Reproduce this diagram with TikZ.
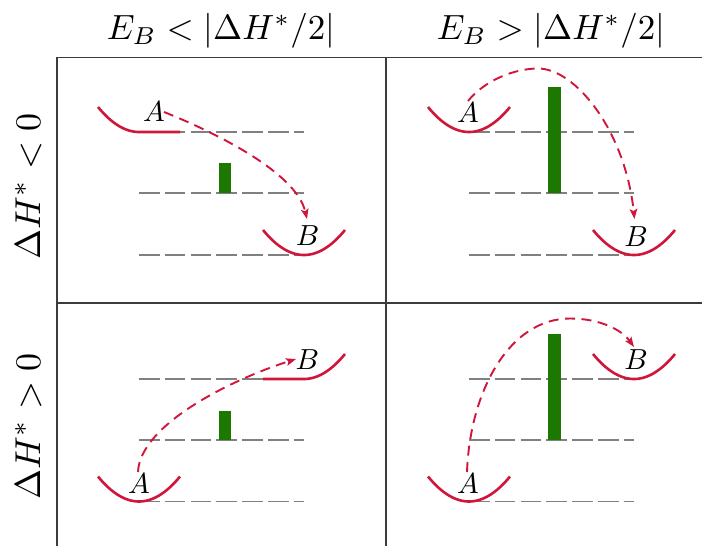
\documentclass[tikz,border=0pt]{standalone}
\usetikzlibrary{arrows.meta}
\definecolor{wellred}{RGB}{208,22,58}
\definecolor{bargreen}{RGB}{28,120,0}
\definecolor{gridgray}{RGB}{60,60,60}
\definecolor{levelgray}{RGB}{128,128,128}
\begin{document}
\begin{tikzpicture}[x=1pt,y=-1pt,
  grid/.style={draw=gridgray,line width=1.5pt},
  level/.style={draw=levelgray,line width=1.3pt,dash pattern=on 20.5pt off 5.3pt},
  well/.style={draw=wellred,line width=2.6pt},
  hop/.style={draw=wellred,line width=1.9pt,dash pattern=on 10pt off 6.5pt,-{Stealth[length=10pt,width=7.5pt,inset=2pt]}},
  barrier/.style={fill=bargreen,draw=none},
  lbl/.style={scale=2.9,inner sep=0pt},
  head/.style={scale=3.5,anchor=base,inner sep=0pt},
  side/.style={scale=3.6,anchor=base,rotate=90,inner sep=0pt}]
\useasboundingbox (0,0) rectangle (702,546);
\clip (0,0) rectangle (702,546);
\fill[white] (0,0) rectangle (702,546);

% headers
\node[head] (h1) at (221,39) {$E_B < |\Delta H^*/2|$};
\node[head] (h2) at (551,39) {$E_B > |\Delta H^*/2|$};
\node[side] (s1) at (40,186.5) {$\Delta H^* < 0$};
\node[side] (s2) at (40,426.5) {$\Delta H^* > 0$};

% grid
\draw[grid] (57,57.5) rectangle (715,548.5);
\draw[grid] (386,57.5) -- (386,548.5);
\draw[grid] (57,303) -- (715,303);

% energy levels
\foreach \y in {132,193,255} {
  \draw[level] (139,\y) -- (304,\y);
  \draw[level] (469,\y) -- (634,\y);
}
\foreach \y in {379,440,501.5} {
  \draw[level] (139,\y) -- (304,\y);
  \draw[level] (469,\y) -- (634,\y);
}

% barriers
\fill[barrier] (218.5,163) rectangle (231,193);
\fill[barrier] (548,87) rectangle (560.5,193);
\fill[barrier] (218.5,410.5) rectangle (231,440);
\fill[barrier] (548,334) rectangle (560.5,440);

% wells: top-left
\draw[well] plot[domain=-41:0,samples=25] ({139+\x},{132-25*(\x/41)^2}) -- (180,132);
\draw[well] plot[domain=-41:41,samples=40] ({304+\x},{255-25*(\x/41)^2});
% top-right
\draw[well] plot[domain=-41:41,samples=40] ({469+\x},{132-25*(\x/41)^2});
\draw[well] plot[domain=-41:41,samples=40] ({634+\x},{255-25*(\x/41)^2});
% bottom-left
\draw[well] plot[domain=-41:41,samples=40] ({139+\x},{501.5-25*(\x/41)^2});
\draw[well] (263,379) -- plot[domain=0:41,samples=25] ({304+\x},{379-25*(\x/41)^2});
% bottom-right
\draw[well] plot[domain=-41:41,samples=40] ({469+\x},{501.5-25*(\x/41)^2});
\draw[well] plot[domain=-41:41,samples=40] ({634+\x},{379-25*(\x/41)^2});

% labels
\node[lbl] (tlA) at (154,111.7) {$A$};
\node[lbl] (tlB) at (307.5,236) {$B$};
\node[lbl] (trA) at (468,112.5) {$A$};
\node[lbl] (trB) at (636,236.5) {$B$};
\node[lbl] (blA) at (139,484) {$A$};
\node[lbl] (blB) at (307.3,359.7) {$B$};
\node[lbl] (brA) at (468,484) {$A$};
\node[lbl] (brB) at (636,359.7) {$B$};

% hops
\coordinate (tlS) at (164,112);
\coordinate (tlE) at (307,219);
\draw[hop] (tlS) .. controls (214,132) and (296,172) .. (tlE);
\coordinate (trS) at (468,101);
\coordinate (trP) at (538,68.5);
\coordinate (trE) at (634.5,219);
\draw[hop] (trS) .. controls (485,80) and (515,68.5) .. (trP) .. controls (575,68.5) and (625,130) .. (trE);
\coordinate (blS) at (138,472);
\coordinate (blE) at (296,359);
\draw[hop] (blS) .. controls (140,425) and (230,380) .. (blE);
\coordinate (brS) at (467,472);
\coordinate (brP) at (570,318.5);
\coordinate (brE) at (634,347);
\draw[hop] (brS) .. controls (470,390) and (510,318.5) .. (brP) .. controls (600,318.5) and (622,330) .. (brE);
\end{tikzpicture}
\end{document}
